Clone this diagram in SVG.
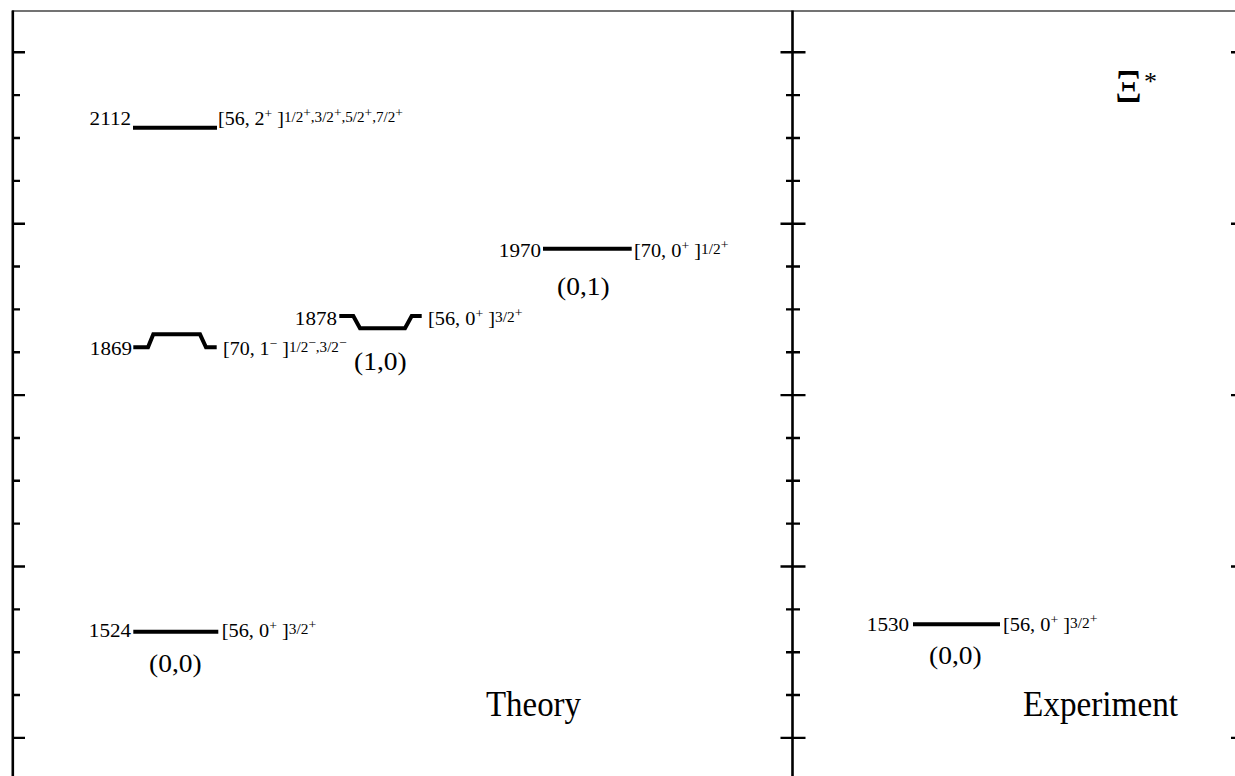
<svg xmlns="http://www.w3.org/2000/svg" width="1235" height="776" viewBox="0 0 1235 776">
<style>
text{font-family:"Liberation Serif","Times New Roman",serif;fill:#000}
.num{font-size:18.5px;text-anchor:end}
.lab{font-size:18.5px}
.sp{font-size:12.5px}
.fr{font-size:14px}
.big{font-size:25px}
.title{font-size:35px}
.lvl{stroke:#000;stroke-width:4;fill:none}
.ax{stroke:#000;stroke-width:2.6;fill:none}
.tk{stroke:#000;stroke-width:2.4}
</style>
<rect width="1235" height="776" fill="#fff"/>
<g id="frame">
<line x1="12" y1="11" x2="1235" y2="11" stroke="#444" stroke-width="1.4"/>
<line class="ax" x1="12.8" y1="10.5" x2="12.8" y2="776"/>
<line class="ax" x1="792.5" y1="10.5" x2="792.5" y2="776"/>
<path class="tk" d="M12.8 52.3H25M12.8 95.15H20M12.8 138H20M12.8 180.85H20M12.8 223.7H25M12.8 266.55H20M12.8 309.4H20M12.8 352.25H20M12.8 395.1H25M12.8 437.95H20M12.8 480.8H20M12.8 523.65H20M12.8 566.5H25M12.8 609.35H20M12.8 652.2H20M12.8 695.05H20M12.8 737.9H25"/>
<path class="tk" d="M780.5 52.3H805.5M786 95.15H800M786 138H800M786 180.85H800M780.5 223.7H805.5M786 266.55H800M786 309.4H800M786 352.25H800M780.5 395.1H805.5M786 437.95H800M786 480.8H800M786 523.65H800M780.5 566.5H805.5M786 609.35H800M786 652.2H800M786 695.05H800M780.5 737.9H805.5"/>
<path class="tk" d="M1231 52.3H1240M1231 223.7H1240M1231 395.1H1240M1231 566.5H1240M1231 737.9H1240"/>
</g>
<g id="connectors"></g>
<g id="level-2112">
<line class="lvl" x1="133" y1="127.7" x2="217" y2="127.7"/>
<text class="num" transform="translate(131,124.5) scale(1.14,1)">2112</text>
<text class="lab" transform="translate(218,124.5) scale(1.08,1)">[56, 2<tspan class="sp" dy="-7">+</tspan><tspan dy="7"> ]</tspan><tspan class="fr" dy="-3">1/2</tspan><tspan class="sp" dy="-5">+</tspan><tspan class="fr" dy="5">,</tspan><tspan class="fr">3/2</tspan><tspan class="sp" dy="-5">+</tspan><tspan class="fr" dy="5">,</tspan><tspan class="fr">5/2</tspan><tspan class="sp" dy="-5">+</tspan><tspan class="fr" dy="5">,</tspan><tspan class="fr">7/2</tspan><tspan class="sp" dy="-5">+</tspan></text>
</g>
<g id="level-1970">
<line class="lvl" x1="543" y1="248.7" x2="631.7" y2="248.7"/>
<text class="num" transform="translate(541,256.5) scale(1.14,1)">1970</text>
<text class="lab" transform="translate(634,256.5) scale(1.1,1)">[70, 0<tspan class="sp" dy="-7">+</tspan><tspan dy="7"> ]</tspan><tspan class="fr" dy="-3">1/2</tspan><tspan class="sp" dy="-5">+</tspan></text>
<text class="big" transform="translate(557,295) scale(1.1,1)">(0,1)</text>
</g>
<g id="level-1878">
<path class="lvl" d="M339.3 316H353.3L360 328.3H405L411.7 316H421.7"/>
<text class="num" transform="translate(337,325) scale(1.14,1)">1878</text>
<text class="lab" transform="translate(428,325) scale(1.1,1)">[56, 0<tspan class="sp" dy="-7">+</tspan><tspan dy="7"> ]</tspan><tspan class="fr" dy="-3">3/2</tspan><tspan class="sp" dy="-5">+</tspan></text>
<text class="big" transform="translate(354,369.5) scale(1.1,1)">(1,0)</text>
</g>
<g id="level-1869">
<path class="lvl" d="M133.3 347.3H148L153.3 334.3H200L206 347.3H216.7"/>
<text class="num" transform="translate(132,355) scale(1.14,1)">1869</text>
<text class="lab" transform="translate(223,355) scale(1.08,1)">[70, 1<tspan class="sp" dy="-7">−</tspan><tspan dy="7"> ]</tspan><tspan class="fr" dy="-3">1/2</tspan><tspan class="sp" dy="-5">−</tspan><tspan class="fr" dy="5">,</tspan><tspan class="fr">3/2</tspan><tspan class="sp" dy="-5">−</tspan></text>
</g>
<g id="level-1524">
<line class="lvl" x1="133.3" y1="631.7" x2="218.3" y2="631.7"/>
<text class="num" transform="translate(131,637.3) scale(1.14,1)">1524</text>
<text class="lab" transform="translate(221.7,637.3) scale(1.1,1)">[56, 0<tspan class="sp" dy="-7">+</tspan><tspan dy="7"> ]</tspan><tspan class="fr" dy="-3">3/2</tspan><tspan class="sp" dy="-5">+</tspan></text>
<text class="big" transform="translate(149,671.5) scale(1.1,1)">(0,0)</text>
</g>
<g id="level-1530">
<line class="lvl" x1="913" y1="624.3" x2="1000" y2="624.3"/>
<text class="num" transform="translate(909,630.7) scale(1.14,1)">1530</text>
<text class="lab" transform="translate(1003,630.7) scale(1.1,1)">[56, 0<tspan class="sp" dy="-7">+</tspan><tspan dy="7"> ]</tspan><tspan class="fr" dy="-3">3/2</tspan><tspan class="sp" dy="-5">+</tspan></text>
<text class="big" transform="translate(929,664) scale(1.1,1)">(0,0)</text>
</g>
<g id="titles">
<text class="title" transform="translate(486,716) scale(0.94,1)">Theory</text>
<text class="title" transform="translate(1023,716) scale(0.95,1)">Experiment</text>
<text font-size="46" x="1115" y="102" textLength="27" lengthAdjust="spacingAndGlyphs">Ξ</text>
<text font-size="26" x="1144" y="90">*</text>
</g>
</svg>
